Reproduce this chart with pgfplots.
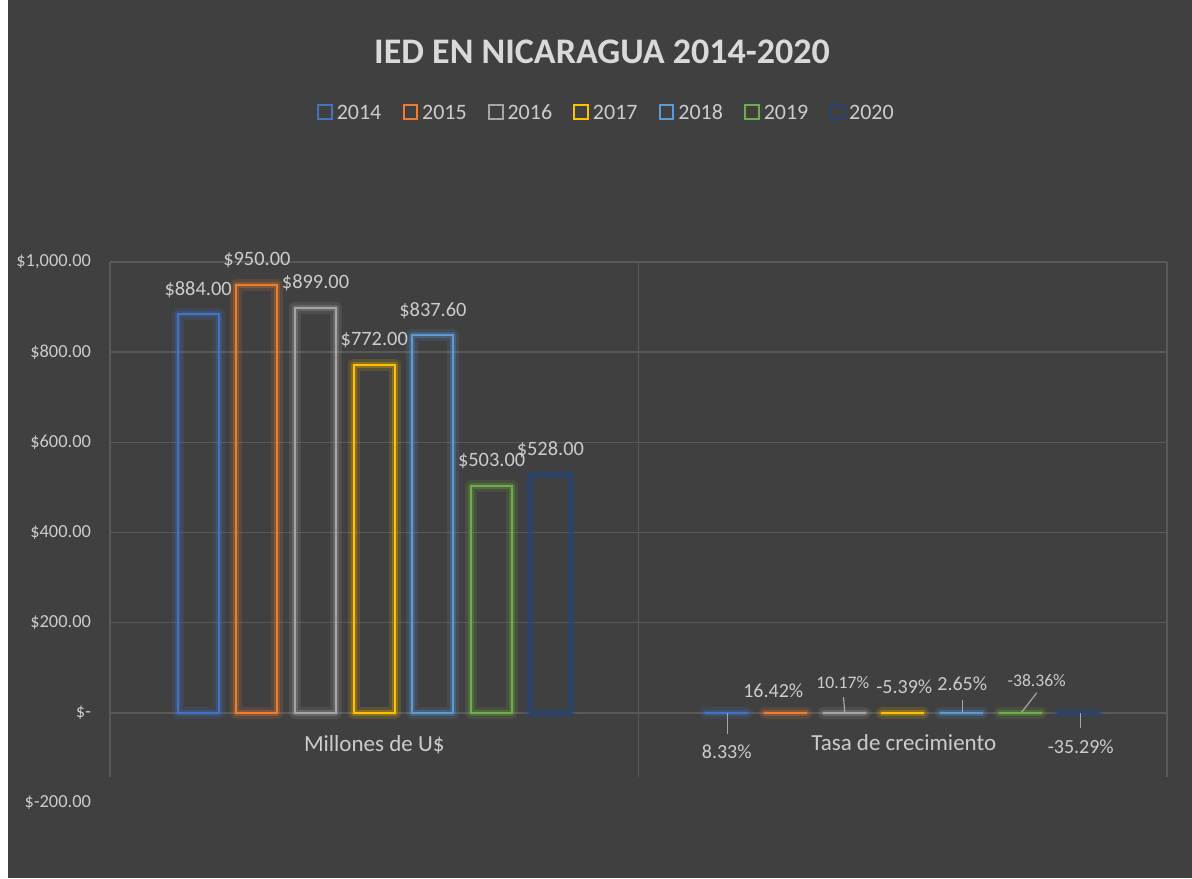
\documentclass[border=0pt]{standalone}
\usepackage{fontspec}
\setmainfont{Carlito}
\usepackage{pgfplots}
\pgfplotsset{compat=1.18}
\definecolor{bg}{HTML}{404040}
\definecolor{gridc}{HTML}{595959}
\definecolor{titlec}{HTML}{D9D9D9}
\definecolor{labc}{HTML}{CCCCCC}
\definecolor{leadc}{HTML}{A6A6A6}
\definecolor{c14}{HTML}{4472C4}
\definecolor{c15}{HTML}{ED7D31}
\definecolor{c16}{HTML}{A5A5A5}
\definecolor{c17}{HTML}{FFC000}
\definecolor{c18}{HTML}{5B9BD5}
\definecolor{c19}{HTML}{70AD47}
\definecolor{c20}{HTML}{264478}
\newcommand{\series}[5]{%
 \addplot[ybar, bar width=20.5pt, bar shift=#2, draw=#1, fill=none, line width=6pt, draw opacity=0.14, line join=round, forget plot] coordinates {(0,#3) (1,#5)};
 \addplot[ybar, bar width=20.5pt, bar shift=#2, draw=#1, fill=none, line width=3pt, draw opacity=0.28, line join=round, forget plot] coordinates {(0,#3) (1,#5)};
 \addplot[ybar, bar width=20.5pt, bar shift=#2, draw=#1, fill=none, line width=1pt,
   point meta=explicit symbolic, nodes near coords,
   nodes near coords style={anchor=center, xshift=#2, yshift=12.5pt, text=labc, font=\fontsize{10.2}{12}\selectfont},
   legend image code/.code={\draw[draw=#1,line width=1pt] (0pt,-3.4pt) rectangle (6.8pt,3.4pt);}]
   coordinates {(0,#3) [\$#4] (1,#5) []};
}
\begin{document}
\begin{tikzpicture}
\fill[white] (0,0) rectangle (4pt,-439pt);
\fill[bg] (4pt,0) rectangle (596pt,-439pt);
\node[text=titlec, font=\bfseries\fontsize{18}{21}\selectfont] at (301pt,-26pt) {IED EN NICARAGUA 2014-2020};
\begin{axis}[
  at={(55pt,-401.5pt)}, anchor=south west,
  scale only axis, width=528.5pt, height=270.5pt,
  xmin=-0.5, xmax=1.5, ymin=-200, ymax=1000,
  clip=false,
  axis line style={draw=none},
  tick style={draw=none},
  xtick=\empty,
  ytick={-200,0,200,400,600,800,1000},
  yticklabels={\$-200.00,\$-\hspace{4.5pt},\$200.00,\$400.00,\$600.00,\$800.00,{\$1,000.00}},
  yticklabel style={text=labc, font=\fontsize{9.2}{11}\selectfont, xshift=-6pt},
  extra y ticks={0,200,400,600,800,1000},
  extra y tick labels={},
  extra y tick style={ymajorgrids=true, major grid style={draw=gridc, line width=0.7pt}},
  legend columns=7,
  legend style={at={(0.1956,1.277)}, anchor=west, draw=none, fill=none, inner sep=0pt,
    text=labc, font=\fontsize{11}{13}\selectfont,
    nodes={text height=7.6pt, text depth=0.2pt},
    /tikz/every even column/.append style={column sep=8.6pt}},
]
\draw[gridc, line width=0.7pt] (axis cs:-0.5,-142) -- (axis cs:-0.5,1000);
\draw[gridc, line width=0.7pt] (axis cs:0.5,-142) -- (axis cs:0.5,1000);
\draw[gridc, line width=0.7pt] (axis cs:1.5,-142) -- (axis cs:1.5,1000);
\series{c14}{-88.05pt}{884}{884.00}{0.0833}
\series{c15}{-58.7pt}{950}{950.00}{0.1642}
\series{c16}{-29.35pt}{899}{899.00}{0.1017}
\series{c17}{0pt}{772}{772.00}{-0.0539}
\series{c18}{29.35pt}{837.6}{837.60}{0.0265}
\series{c19}{58.7pt}{503}{503.00}{-0.3836}
\series{c20}{88.05pt}{528}{528.00}{-0.3529}
\legend{2014,2015,2016,2017,2018,2019,2020}
\node[text=labc, font=\fontsize{11.5}{14}\selectfont] at ([yshift=-16pt]axis cs:0,0) {Millones de U\$};
\node[text=labc, font=\fontsize{11.5}{14}\selectfont] at ([xshift=0.5pt,yshift=-14.85pt]axis cs:1,0) {Tasa de crecimiento};
% growth labels and leader lines
\draw[leadc, line width=0.6pt] ([xshift=-87.6pt]axis cs:1,0) -- ([xshift=-87.6pt,yshift=-10.5pt]axis cs:1,0);
\node[text=labc, font=\fontsize{10}{12}\selectfont] at ([xshift=-88pt,yshift=-19.5pt]axis cs:1,0) {8.33\%};
\node[text=labc, font=\fontsize{10}{12}\selectfont] at ([xshift=-64.75pt,yshift=11.15pt]axis cs:1,0) {16.42\%};
\draw[leadc, line width=0.6pt] ([xshift=-29pt,yshift=0.2pt]axis cs:1,0) -- ([xshift=-29.65pt,yshift=7.85pt]axis cs:1,0);
\node[text=labc, font=\fontsize{8.8}{11}\selectfont] at ([xshift=-30pt,yshift=15pt]axis cs:1,0) {10.17\%};
\node[text=labc, font=\fontsize{10}{12}\selectfont] at ([xshift=0.75pt,yshift=13pt]axis cs:1,0) {-5.39\%};
\draw[leadc, line width=0.6pt] ([xshift=30pt]axis cs:1,0) -- ([xshift=30pt,yshift=6.5pt]axis cs:1,0);
\node[text=labc, font=\fontsize{10}{12}\selectfont] at ([xshift=29.75pt,yshift=14.5pt]axis cs:1,0) {2.65\%};
\draw[leadc, line width=0.6pt] ([xshift=59.35pt,yshift=0.2pt]axis cs:1,0) -- ([xshift=67pt,yshift=10pt]axis cs:1,0);
\node[text=labc, font=\fontsize{8.8}{11}\selectfont] at ([xshift=67pt,yshift=16.15pt]axis cs:1,0) {-38.36\%};
\draw[leadc, line width=0.6pt] ([xshift=89pt]axis cs:1,0) -- ([xshift=89pt,yshift=-7.5pt]axis cs:1,0);
\node[text=labc, font=\fontsize{10}{12}\selectfont] at ([xshift=89pt,yshift=-17pt]axis cs:1,0) {-35.29\%};
\end{axis}
\end{tikzpicture}
\end{document}
